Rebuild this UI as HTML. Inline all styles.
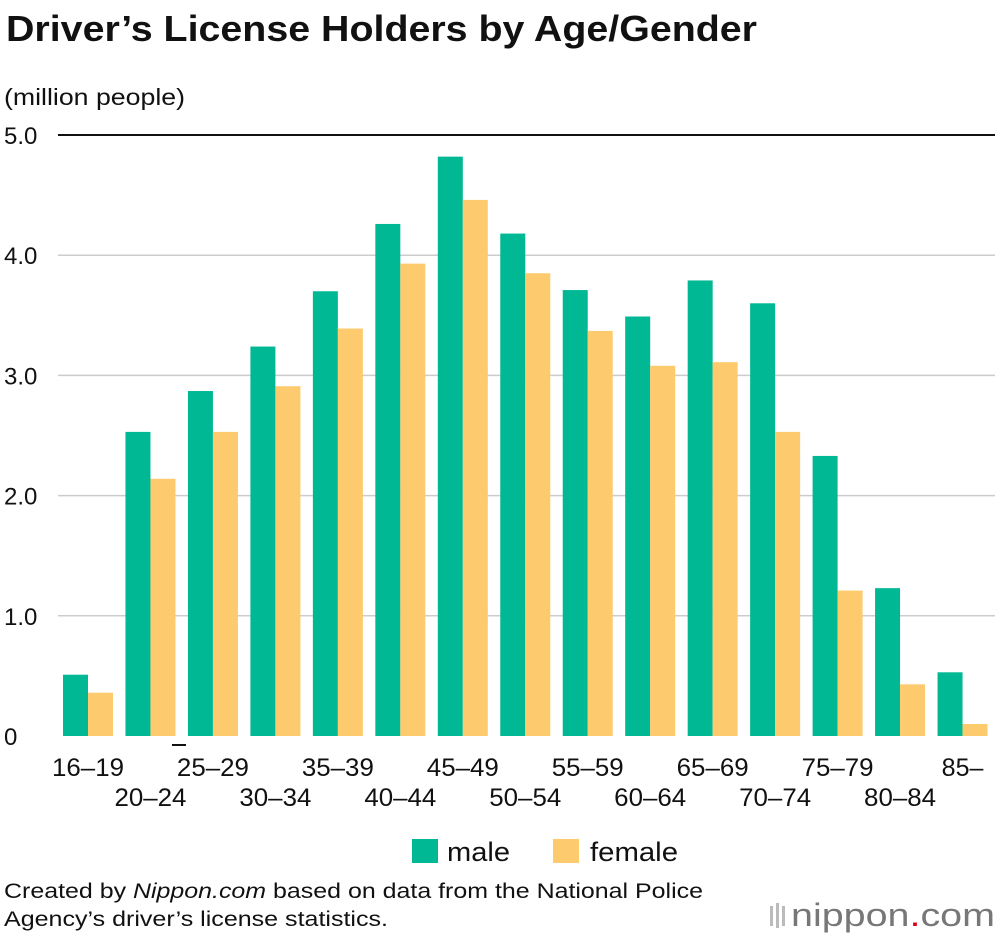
<!DOCTYPE html>
<html><head><meta charset="utf-8"><style>
body{margin:0;background:#fff;font-family:"Liberation Sans",Arial,sans-serif;}
#wrap{position:relative;width:1000px;height:938px;overflow:hidden;}
</style></head><body>
<div id="wrap">
<svg id="chart" width="1000" height="938" xmlns="http://www.w3.org/2000/svg">
<text x="6" y="41" font-size="36" font-weight="bold" fill="#111" textLength="751" lengthAdjust="spacingAndGlyphs">Driver’s License Holders by Age/Gender</text>
<text x="4" y="105" font-size="23" fill="#111" textLength="181" lengthAdjust="spacingAndGlyphs">(million people)</text>
<g id="grid"></g><g id="bars"></g><g id="xlabels"></g>
<rect x="172" y="744" width="14" height="2" fill="#111"/>
<rect x="412" y="839" width="26" height="24" fill="#00b894"/>
<text x="447" y="861" font-size="27" fill="#111" textLength="63" lengthAdjust="spacingAndGlyphs">male</text>
<rect x="553" y="839" width="26" height="24" fill="#fdca6e"/>
<text x="590" y="861" font-size="27" fill="#111" textLength="88" lengthAdjust="spacingAndGlyphs">female</text>
<text x="4" y="898" font-size="21" fill="#111" textLength="699" lengthAdjust="spacingAndGlyphs">Created by <tspan font-style="italic">Nippon.com</tspan> based on data from the National Police</text>
<text x="4" y="926" font-size="21" fill="#111" textLength="384" lengthAdjust="spacingAndGlyphs">Agency’s driver’s license statistics.</text>
<g>
<rect x="770" y="906" width="3" height="20" fill="#bbb"/><rect x="776" y="903" width="3" height="25" fill="#bbb"/><rect x="782" y="906" width="3" height="20" fill="#bbb"/>
<text x="791" y="926" font-size="32" fill="#777" textLength="204" lengthAdjust="spacingAndGlyphs">nippon<tspan fill="#e60012">.</tspan>com</text>
</g>
</svg>
</div>
<script>
const categories=["16–19","20–24","25–29","30–34","35–39","40–44","45–49","50–54","55–59","60–64","65–69","70–74","75–79","80–84","85–"];
const maleValues=[0.51,2.53,2.87,3.24,3.70,4.26,4.82,4.18,3.71,3.49,3.79,3.60,2.33,1.23,0.53];
const femaleValues=[0.36,2.14,2.53,2.91,3.39,3.93,4.46,3.85,3.37,3.08,3.11,2.53,1.21,0.43,0.10];
const yTicks=[0,1,2,3,4,5];
const yTickLabels=["0","1.0","2.0","3.0","4.0","5.0"];
const NS="http://www.w3.org/2000/svg";
const x0=58,x1=995,yBase=736,yTop=135,yMax=5;
const band=(x1-x0)/categories.length;
function yScale(v){return yBase-(v/yMax)*(yBase-yTop);}
function xBand(i){return x0+i*band;}
function mk(tag,attrs,parent){const e=document.createElementNS(NS,tag);for(const k in attrs)e.setAttribute(k,attrs[k]);parent.appendChild(e);return e;}
const grid=document.getElementById('grid'),bars=document.getElementById('bars'),xl=document.getElementById('xlabels');
yTicks.forEach((t,i)=>{
  const y=yScale(t);
  if(t>0){const l=mk('line',{x1:x0,x2:x1,y1:y,y2:y,stroke:t===5?'#111':'#ccc','stroke-width':t===5?2:1.5},grid);
  
  }
  const tx=mk('text',{x:4,y:y+9,'font-size':24,fill:'#111'},grid);
  tx.textContent=yTickLabels[i];
  
  
});
const bw=25;
categories.forEach((c,i)=>{
  const gx=xBand(i)+5;
  const m=mk('rect',{x:gx,y:yScale(maleValues[i]),width:bw,height:yBase-yScale(maleValues[i]),fill:'#00b894'},bars);
  
  
  const f=mk('rect',{x:gx+bw,y:yScale(femaleValues[i]),width:bw,height:yBase-yScale(femaleValues[i]),fill:'#fdca6e'},bars);
  
  
  const t=mk('text',{x:gx+bw,y:i%2===0?776:806,'font-size':25,fill:'#111','text-anchor':'middle'},xl);
  if(c.length>3){t.setAttribute('textLength',72);t.setAttribute('lengthAdjust','spacingAndGlyphs');}
  t.textContent=c;
  
  
});
</script>
</body></html>
